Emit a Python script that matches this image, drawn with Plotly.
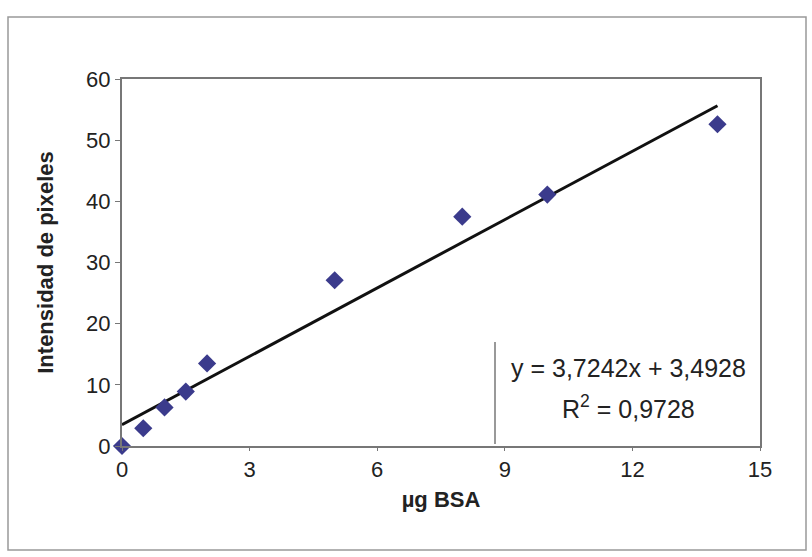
import plotly.graph_objects as go

# Data
bsa_ug = [0, 0.5, 1, 1.5, 2, 5, 8, 10, 14]
intensidad = [0, 2.9, 6.3, 8.9, 13.5, 27.1, 37.5, 41.1, 52.6]
slope = 3.7242
intercept = 3.4928
r2 = 0.9728
trend_x = [0, 14]
trend_y = [slope * x + intercept for x in trend_x]
x_ticks = [0, 3, 6, 9, 12, 15]
y_ticks = [0, 10, 20, 30, 40, 50, 60]

W, H = 812, 557
L, R, T, B = 122, 52, 79, 111
pw, ph = W - L - R, H - T - B

def px(x):
    return (x - L) / pw

def py(y):
    return (H - B - y) / ph

font = "Liberation Sans, Arial, sans-serif"

fig = go.Figure()
fig.add_trace(go.Scatter(x=trend_x, y=trend_y, mode="lines",
                         line=dict(color="#111111", width=3), showlegend=False,
                         hoverinfo="skip"))
fig.add_trace(go.Scatter(x=bsa_ug, y=intensidad, mode="markers",
                         marker=dict(symbol="diamond", size=14, color="#3b3b8c"),
                         showlegend=False, cliponaxis=False))

fig.update_layout(
    width=W, height=H,
    margin=dict(l=L, r=R, t=T, b=B),
    paper_bgcolor="white", plot_bgcolor="white",
    font=dict(family=font, size=22, color="#222222"),
    xaxis=dict(range=[0, 15], tickvals=x_ticks, ticktext=[str(v) for v in x_ticks],
               showgrid=False, zeroline=False, showline=True, linecolor="#777777",
               linewidth=2, mirror=True, ticks="outside", ticklen=3, tickcolor="#777777",
               tickfont=dict(size=22),
               title=dict(text="<b>µg BSA</b>", font=dict(size=22), standoff=10)),
    yaxis=dict(range=[0, 60], tickvals=y_ticks, ticktext=[str(v) for v in y_ticks],
               showgrid=False, zeroline=False, showline=True, linecolor="#777777",
               linewidth=2, mirror=True, ticks="outside", ticklen=5, tickcolor="#777777",
               tickfont=dict(size=22),
               title=dict(text="<b>Intensidad de pixeles</b>", font=dict(size=22), standoff=26)),
    shapes=[
        dict(type="rect", xref="paper", yref="paper",
             x0=px(8), x1=px(806), y0=py(550), y1=py(17),
             line=dict(color="#999999", width=1.5), layer="below"),
        dict(type="line", xref="paper", yref="paper",
             x0=px(495), x1=px(495), y0=py(444), y1=py(342),
             line=dict(color="#777777", width=1.5)),
    ],
    annotations=[
        dict(xref="paper", yref="paper", x=px(628), y=py(368),
             text=f"y = {str(slope).replace('.', ',')}x + {str(intercept).replace('.', ',')}",
             showarrow=False, font=dict(size=25, color="#222222"), xanchor="center", yanchor="middle"),
        dict(xref="paper", yref="paper", x=px(628), y=py(407),
             text=f"R<sup>2</sup> = {str(r2).replace('.', ',')}",
             showarrow=False, font=dict(size=25, color="#222222"), xanchor="center", yanchor="middle"),
    ],
)

fig.write_html("out.html", config={"displayModeBar": False},
               post_script="document.body.style.margin='0';")
